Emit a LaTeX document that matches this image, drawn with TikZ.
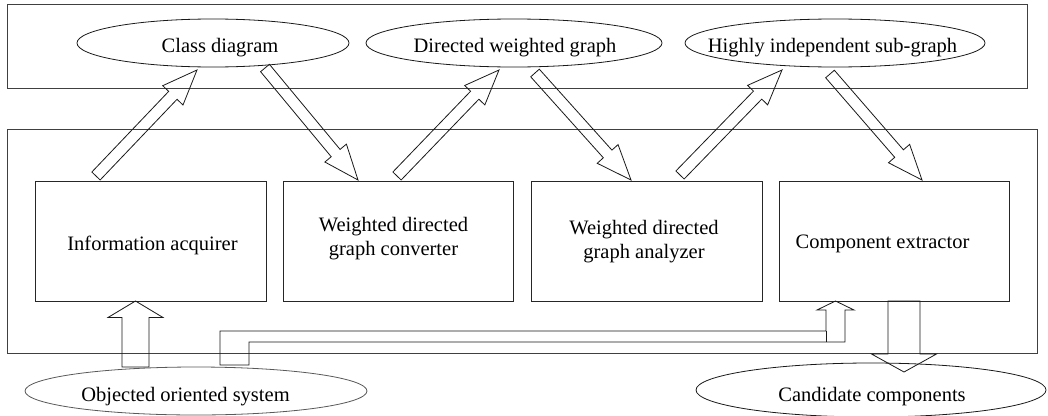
\documentclass[tikz,border=0pt]{standalone}
\usepackage{fontspec}
\setmainfont{Liberation Serif}
\usetikzlibrary{shapes.geometric,calc}
\newcommand{\lblfont}{\fontsize{20.5}{23.5}\selectfont}
\newcommand{\blockarrow}[5]{%
  \coordinate (bh) at ($(#2)!#5!(#1)$);
  \draw[barrow] ($(#1)!#3!90:(#2)$) -- ($(bh)!#3!90:(#2)$) -- ($(bh)!#4!90:(#2)$) -- (#2)
    -- ($(bh)!#4!-90:(#2)$) -- ($(bh)!#3!-90:(#2)$) -- ($(#1)!#3!-90:(#2)$) -- cycle;
}
\tikzset{
  frm/.style={draw=black!75, line width=1pt, inner sep=0pt},
  blk/.style={draw=black!85, line width=0.9pt, inner sep=0pt, minimum height=120pt},
  ell/.style={draw=black!90, ellipse, line width=0.8pt, inner sep=0pt},
  txt/.style={font=\lblfont, inner sep=0pt, anchor=base, align=center},
  barrow/.style={draw=black!90, line width=0.8pt, line join=miter},
}
\begin{document}
\begin{tikzpicture}[x=1pt,y=-1pt]
\useasboundingbox[fill=white] (0,0) rectangle (1048,415);

% frames
\node[frm, minimum width=1020pt, minimum height=84pt] (top) at (517,46) {};
\node[frm, minimum width=1030pt, minimum height=224pt] (bot) at (522,241) {};

% top ellipses
\node[ell, minimum width=272pt, minimum height=48pt] (cls) at (213,43) {};
\node[txt] (clst) at (220,52) {Class diagram};
\node[ell, minimum width=296pt, minimum height=48pt] (dwg) at (514,43) {};
\node[txt] (dwgt) at (515,52) {Directed weighted graph};
\node[ell, minimum width=300pt, minimum height=48pt] (his) at (835,43) {};
\node[txt] (hist) at (832.5,52.5) {Highly independent sub-graph};

% boxes
\node[blk, minimum width=231pt] (b1) at (150.5,241) {};
\node[blk, minimum width=230pt] (b2) at (398,241) {};
\node[blk, minimum width=231pt] (b3) at (646.5,241) {};
\node[blk, minimum width=230pt] (b4) at (894,241) {};
\node[txt] (b1t) at (152.5,250) {Information acquirer};
\node[txt] (b2t) at (393.5,255) {Weighted directed\\graph converter};
\node[txt] (b3t) at (644,258) {Weighted directed\\graph analyzer};
\node[txt] (b4t) at (882.5,248) {Component extractor};

% bottom ellipses
\node[ell, draw=black!65, minimum width=342pt, minimum height=48pt] (oos) at (196,391) {};
\node[txt] (oost) at (185.5,401.7) {Objected oriented system};
\node[ell, minimum width=350pt, minimum height=54pt] (cand) at (871,390) {};
\node[txt] (candt) at (872,401.7) {Candidate components};

% diagonal block arrows
\coordinate (a1s) at (96,176);  \coordinate (a1e) at (197,70);
\coordinate (a2s) at (265,68);  \coordinate (a2e) at (358,180);
\coordinate (a3s) at (397,176); \coordinate (a3e) at (499,70);
\coordinate (a4s) at (535,73);  \coordinate (a4e) at (631,180);
\coordinate (a5s) at (680,175); \coordinate (a5e) at (782,70);
\coordinate (a6s) at (830,74);  \coordinate (a6e) at (922,180);
\blockarrow{a1s}{a1e}{5.75pt}{14pt}{35pt}
\blockarrow{a2s}{a2e}{5.75pt}{14pt}{35pt}
\blockarrow{a3s}{a3e}{5.75pt}{14pt}{35pt}
\blockarrow{a4s}{a4e}{5.75pt}{14pt}{35pt}
\blockarrow{a5s}{a5e}{5.75pt}{14pt}{35pt}
\blockarrow{a6s}{a6e}{5.75pt}{14pt}{35pt}

% vertical block arrows
\coordinate (a7s) at (135.5,367); \coordinate (a7e) at (135.5,301);
\coordinate (a8s) at (904,301);   \coordinate (a8e) at (904,372);
\blockarrow{a7s}{a7e}{13.5pt}{27.5pt}{16.5pt}
\blockarrow{a8s}{a8e}{16pt}{32.5pt}{18pt}

% elbow block arrow
\coordinate (e1) at (220,365);
\coordinate (etip) at (835.5,301);
\draw[barrow] (e1) -- (220,331) -- (826,331) -- (826,310) -- (817,310) -- (etip)
  -- (854,310) -- (845,310) -- (845,342) -- (249,342) -- (249,365) -- cycle;
\draw[barrow] (826,331) -- (826,342);
\end{tikzpicture}
\end{document}
